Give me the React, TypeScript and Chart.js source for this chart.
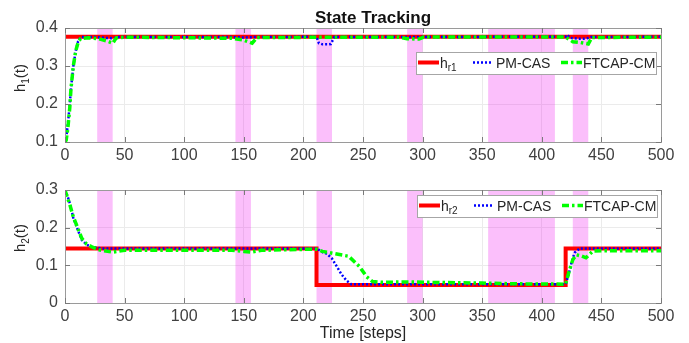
import React, { useEffect, useRef } from 'react';
import { Chart, registerables } from 'chart.js';
Chart.register(...registerables);

// ---- data ----
const X_TICK_STEP = 50;
const SHADED_START = [27, 143, 211, 287, 355, 426];
const SHADED_END = [40, 156, 224, 300, 411, 439];

const H1_TICKS = [0.1, 0.2, 0.3, 0.4];
const H2_TICKS = [0, 0.1, 0.2, 0.3];

const H1_REF_T = [0, 500];
const H1_REF = [0.377, 0.377];

const H1_PM_T = [0, 1, 2.5, 4, 5, 7, 9, 11, 13, 25, 30, 35, 40, 45, 140, 150, 157, 211, 213, 216, 220, 223, 226, 420, 421, 424, 430, 437, 441, 500];
const H1_PM = [0.1, 0.11, 0.15, 0.2, 0.24, 0.3, 0.34, 0.365, 0.376, 0.376, 0.375, 0.374, 0.373, 0.376, 0.376, 0.375, 0.376, 0.377, 0.36, 0.357, 0.357, 0.358, 0.376, 0.377, 0.382, 0.374, 0.372, 0.372, 0.376, 0.377];

const H1_FT_T = [0, 1, 2.5, 4, 5, 7, 9, 11, 13, 20, 28, 35, 40, 43, 50, 140, 150, 157, 161, 280, 287, 297, 301, 420, 426, 432, 439, 442, 500];
const H1_FT = [0.1, 0.105, 0.14, 0.19, 0.24, 0.3, 0.34, 0.362, 0.372, 0.374, 0.372, 0.366, 0.36, 0.374, 0.376, 0.373, 0.368, 0.36, 0.375, 0.376, 0.372, 0.371, 0.376, 0.376, 0.364, 0.362, 0.358, 0.375, 0.376];

const H2_REF_T = [0, 211, 211, 420, 420, 500];
const H2_REF = [0.145, 0.145, 0.048, 0.048, 0.145, 0.145];

const H2_PM_T = [0, 2, 4, 7, 10, 14, 18, 23, 30, 211, 216, 220, 224, 228, 232, 236, 240, 420, 422, 424, 426, 428, 432, 500];
const H2_PM = [0.3, 0.285, 0.265, 0.226, 0.2, 0.168, 0.155, 0.148, 0.145, 0.145, 0.135, 0.13, 0.118, 0.097, 0.076, 0.06, 0.05, 0.05, 0.07, 0.095, 0.12, 0.135, 0.145, 0.145];

const H2_FT_T = [0, 2, 4, 7, 10, 14, 18, 23, 30, 40, 50, 140, 150, 156, 165, 211, 216, 238, 247, 253, 258, 265, 290, 300, 350, 376, 420, 423, 426, 429, 433, 437, 443, 450, 500];
const H2_FT = [0.3, 0.28, 0.262, 0.228, 0.205, 0.172, 0.157, 0.148, 0.14, 0.135, 0.14, 0.14, 0.137, 0.135, 0.14, 0.143, 0.137, 0.124, 0.097, 0.07, 0.057, 0.055, 0.056, 0.055, 0.053, 0.051, 0.05, 0.085, 0.115, 0.128, 0.125, 0.12, 0.138, 0.139, 0.139];

const LEGEND_LABELS = ['PM-CAS', 'FTCAP-CM'];

// ---- helpers ----
const FONT = "'Liberation Sans', Arial, Helvetica, sans-serif";
const zip = (t: number[], v: number[]) => t.map((x, i) => ({ x, y: v[i] }));

function drawSubText(ctx: CanvasRenderingContext2D, x: number, y: number, main: string, sub: string, tail: string, size: number, subSize: number, subDrop: number) {
  ctx.font = `${size}px ${FONT}`;
  ctx.fillText(main, x, y);
  let cx = x + ctx.measureText(main).width;
  ctx.font = `${subSize}px ${FONT}`;
  ctx.fillText(sub, cx, y + subDrop);
  cx += ctx.measureText(sub).width;
  if (tail) {
    ctx.font = `${size}px ${FONT}`;
    ctx.fillText(tail, cx, y);
  }
}

function makeDecor(cfg: { refSub: string; ylabSub: string; ylabY: number; legendLeft: number; legendTop: number; title?: boolean; xTitle?: boolean; ticks: number[] }) {
  return {
    id: 'decor',
    beforeDatasetsDraw(chart: any) {
      const { ctx, chartArea: a, scales } = chart;
      const x = scales.x;
      ctx.save();
      ctx.fillStyle = 'rgba(240, 0, 240, 0.25)';
      SHADED_START.forEach((s, i) => {
        const x0 = x.getPixelForValue(s);
        const x1 = x.getPixelForValue(SHADED_END[i]);
        ctx.fillRect(x0, a.top, x1 - x0, a.bottom - a.top);
      });
      ctx.restore();
    },
    afterDraw(chart: any) {
      const { ctx, chartArea: a, scales } = chart;
      ctx.save();
      // box
      ctx.strokeStyle = '#9a9a9a';
      ctx.lineWidth = 1;
      ctx.strokeRect(Math.round(a.left) + 0.5, Math.round(a.top) + 0.5, Math.round(a.right - a.left), Math.round(a.bottom - a.top));
      // inward ticks
      ctx.strokeStyle = '#7a7a7a';
      ctx.beginPath();
      for (let v = 0; v <= 500; v += X_TICK_STEP) {
        const px = Math.round(scales.x.getPixelForValue(v)) + 0.5;
        ctx.moveTo(px, a.bottom); ctx.lineTo(px, a.bottom - 5);
        ctx.moveTo(px, a.top); ctx.lineTo(px, a.top + 5);
      }
      cfg.ticks.forEach((v) => {
        const py = Math.round(scales.y.getPixelForValue(v)) + 0.5;
        ctx.moveTo(a.left, py); ctx.lineTo(a.left + 5, py);
        ctx.moveTo(a.right, py); ctx.lineTo(a.right - 5, py);
      });
      ctx.stroke();

      // legend
      const L = cfg.legendLeft, T = cfg.legendTop, W = 240, H = 22;
      ctx.fillStyle = '#ffffff';
      ctx.fillRect(L, T, W, H);
      ctx.strokeStyle = '#a6a6a6';
      ctx.strokeRect(L + 0.5, T + 0.5, W, H);
      const cy = T + 10.5;
      ctx.lineCap = 'butt';
      ctx.strokeStyle = '#ff0000'; ctx.lineWidth = 4; ctx.setLineDash([]);
      ctx.beginPath(); ctx.moveTo(L + 2, cy); ctx.lineTo(L + 23, cy); ctx.stroke();
      ctx.strokeStyle = '#0000ff'; ctx.lineWidth = 2.5; ctx.setLineDash([2, 2]);
      ctx.beginPath(); ctx.moveTo(L + 57, cy); ctx.lineTo(L + 76, cy); ctx.stroke();
      ctx.strokeStyle = '#00ff00'; ctx.lineWidth = 3.5; ctx.setLineDash([7, 3, 2.5, 3]);
      ctx.beginPath(); ctx.moveTo(L + 145, cy); ctx.lineTo(L + 166, cy); ctx.stroke();
      ctx.setLineDash([]);
      ctx.fillStyle = '#262626';
      ctx.textBaseline = 'alphabetic';
      ctx.textAlign = 'left';
      drawSubText(ctx, L + 24, cy + 5, 'h', cfg.refSub, '', 14, 10, 3);
      ctx.font = `14px ${FONT}`;
      ctx.fillText(LEGEND_LABELS[0], L + 80, cy + 5);
      ctx.fillText(LEGEND_LABELS[1], L + 167, cy + 5);

      // y label (rotated)
      ctx.save();
      ctx.fillStyle = '#262626';
      ctx.translate(25, cfg.ylabY);
      ctx.rotate(-Math.PI / 2);
      ctx.font = `15px ${FONT}`;
      const w1 = ctx.measureText('h').width;
      const w3 = ctx.measureText('(t)').width;
      ctx.font = `10px ${FONT}`;
      const w2 = ctx.measureText(cfg.ylabSub).width;
      const tot = w1 + w2 + w3;
      drawSubText(ctx, -tot / 2, 0, 'h', cfg.ylabSub, '(t)', 15, 10, 4);
      ctx.restore();

      if (cfg.title) {
        ctx.fillStyle = '#111111';
        ctx.font = `bold 17px ${FONT}`;
        ctx.textAlign = 'center';
        ctx.fillText('State Tracking', 373, 22.5);
      }
      if (cfg.xTitle) {
        ctx.fillStyle = '#262626';
        ctx.font = `16px ${FONT}`;
        ctx.textAlign = 'center';
        ctx.fillText('Time [steps]', 363, 338 - 170);
      }
      ctx.restore();
    },
  };
}

function makeConfig(refT: number[], ref: number[], pmT: number[], pm: number[], ftT: number[], ft: number[], yMin: number, yMax: number, ticks: number[], padTop: number, xHeight: number, decor: any) {
  return {
    type: 'line' as const,
    data: {
      datasets: [
        { label: 'ref', data: zip(refT, ref), borderColor: '#ff0000', borderWidth: 4, pointRadius: 0, order: 3, tension: 0 },
        { label: LEGEND_LABELS[0], data: zip(pmT, pm), borderColor: '#0000ff', borderWidth: 2.5, borderDash: [2, 2], pointRadius: 0, order: 2, tension: 0 },
        { label: LEGEND_LABELS[1], data: zip(ftT, ft), borderColor: '#00ff00', borderWidth: 3.5, borderDash: [7, 3, 2.5, 3], pointRadius: 0, order: 1, tension: 0 },
      ],
    },
    options: {
      animation: false,
      responsive: false,
      maintainAspectRatio: false,
      devicePixelRatio: 1,
      layout: { padding: { left: 0, right: 28, top: padTop, bottom: 0 } },
      plugins: { legend: { display: false }, tooltip: { enabled: false }, title: { display: false } },
      scales: {
        x: {
          type: 'linear',
          min: 0,
          max: 500,
          afterFit: (s: any) => { s.height = xHeight; },
          ticks: { stepSize: X_TICK_STEP, color: '#404040', font: { family: FONT, size: 16 }, padding: 4, maxRotation: 0, autoSkip: false },
          grid: { color: '#ebebeb', drawTicks: false },
          border: { display: false },
        },
        y: {
          type: 'linear',
          min: yMin,
          max: yMax,
          afterFit: (s: any) => { s.width = 65; },
          afterBuildTicks: (s: any) => { s.ticks = ticks.map((v) => ({ value: v })); },
          ticks: {
            color: '#404040',
            font: { family: FONT, size: 16 },
            padding: 7,
            callback: (v: number) => (v === 0 ? '0' : String(+Number(v).toFixed(1))),
          },
          grid: { color: '#ebebeb', drawTicks: false },
          border: { display: false },
        },
      },
    },
    plugins: [decor],
  };
}

export default function App() {
  const topRef = useRef<HTMLCanvasElement>(null);
  const botRef = useRef<HTMLCanvasElement>(null);

  useEffect(() => {
    document.body.style.margin = '0';
    const c1 = new Chart(
      topRef.current as HTMLCanvasElement,
      makeConfig(H1_REF_T, H1_REF, H1_PM_T, H1_PM, H1_FT_T, H1_FT, 0.1, 0.4, H1_TICKS, 28, 28,
        makeDecor({ refSub: 'r1', ylabSub: '1', ylabY: 78, legendLeft: 416, legendTop: 52, title: true, ticks: H1_TICKS })) as any
    );
    const c2 = new Chart(
      botRef.current as HTMLCanvasElement,
      makeConfig(H2_REF_T, H2_REF, H2_PM_T, H2_PM, H2_FT_T, H2_FT, 0, 0.3, H2_TICKS, 20, 40,
        makeDecor({ refSub: 'r2', ylabSub: '2', ylabY: 68, legendLeft: 417, legendTop: 195 - 170, xTitle: true, ticks: H2_TICKS })) as any
    );
    return () => { c1.destroy(); c2.destroy(); };
  }, []);

  return (
    <div style={{ position: 'fixed', left: 0, top: 0, width: 689, height: 343, background: '#fff' }}>
      <canvas ref={topRef} width={689} height={170} style={{ position: 'absolute', left: 0, top: 0, width: 689, height: 170 }} />
      <canvas ref={botRef} width={689} height={173} style={{ position: 'absolute', left: 0, top: 170, width: 689, height: 173 }} />
    </div>
  );
}
